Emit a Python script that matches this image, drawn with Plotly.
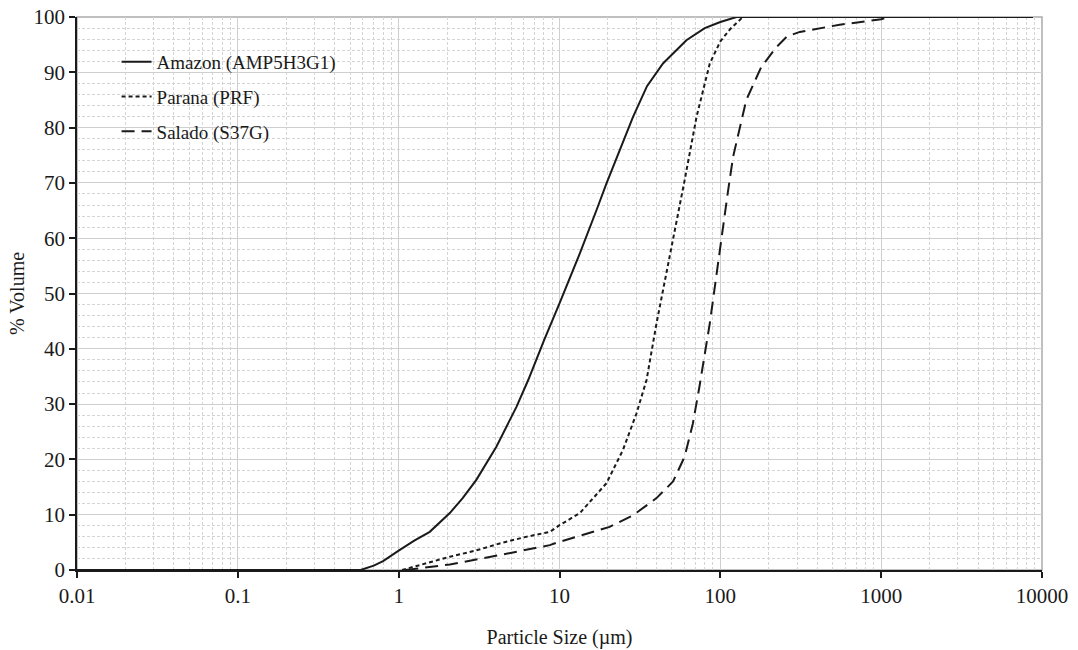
import plotly.graph_objects as go

# ---- data ----
amazon_x = [0.01, 0.58, 0.7, 0.8, 1.0, 1.25, 1.56, 2.08, 2.5, 3.04, 4.05, 5.4, 6.4, 8.0, 10.0,
            13.4, 17.0, 19.6, 28.7, 35.0, 44.0, 61.5, 80.0, 100.0, 126.0, 8750.0]
amazon_y = [0.0, 0.0, 0.8, 1.6, 3.5, 5.3, 6.9, 10.3, 13.0, 16.3, 22.3, 29.5, 34.4, 41.5, 48.2,
            57.3, 65.1, 69.9, 82.0, 87.5, 91.6, 95.8, 98.0, 99.1, 100.0, 100.0]

parana_x = [1.05, 1.5, 2.08, 3.0, 4.25, 6.0, 8.7, 10.0, 13.4, 19.6, 24.8, 30.1, 34.8, 40.1,
            50.8, 60.0, 71.2, 86.0, 100.0, 115.0, 138.0, 8750.0]
parana_y = [0.0, 1.3, 2.4, 3.5, 4.8, 5.9, 6.9, 8.1, 10.3, 15.7, 21.7, 28.3, 34.4, 44.6,
            59.7, 70.5, 82.0, 91.6, 95.6, 97.8, 100.0, 100.0]

salado_x = [1.1, 2.08, 4.25, 8.7, 10.0, 20.5, 28.7, 40.1, 50.8, 60.0, 67.5, 74.0, 86.0, 97.0,
            111.0, 120.0, 145.0, 180.0, 224.0, 260.0, 312.0, 552.0, 1000.0, 1100.0, 8750.0]
salado_y = [0.0, 1.0, 2.7, 4.5, 5.1, 7.8, 9.9, 13.0, 16.0, 20.5, 26.5, 33.0, 44.6, 56.0,
            68.0, 74.7, 85.0, 91.0, 94.6, 96.5, 97.3, 98.6, 99.6, 100.0, 100.0]

series_names = ["Amazon (AMP5H3G1)", "Parana (PRF)", "Salado (S37G)"]

x_ticks = [0.01, 0.1, 1, 10, 100, 1000, 10000]
x_tick_text = ["0.01", "0.1", "1", "10", "100", "1000", "10000"]
x_minor = [m * 10 ** e for e in range(-2, 4) for m in range(2, 10)]
y_ticks = list(range(0, 101, 10))

FONT = "Liberation Serif, Times New Roman, serif"
LINE = "#1a1a1a"
GRID = "#cfcfcf"
MINOR = "#d4d4d4"

fig = go.Figure()
styles = ["solid", "4px,3px", "13px,7px"]
for i, (xs, ys) in enumerate([(amazon_x, amazon_y), (parana_x, parana_y), (salado_x, salado_y)]):
    fig.add_trace(go.Scatter(
        x=xs, y=ys, mode="lines", name=series_names[i], legendgroup=f"g{i}",
        line=dict(color=LINE, width=2, dash=styles[i]),
    ))

fig.update_layout(
    width=1078, height=650,
    paper_bgcolor="white", plot_bgcolor="white",
    margin=dict(l=77, r=36, t=17, b=80),
    font=dict(family=FONT, size=20, color="#1a1a1a"),
    showlegend=True,
    legend=dict(
        x=0.041, y=0.953, xanchor="left", yanchor="top",
        bgcolor="rgba(0,0,0,0)", borderwidth=0,
        font=dict(family=FONT, size=19, color="#1a1a1a"),
        traceorder="grouped", tracegroupgap=7,
    ),
    shapes=[dict(type="rect", xref="paper", yref="paper", x0=0, y0=0, x1=1, y1=1,
                 line=dict(color="#aaaaaa", width=1.5), layer="below")],
)

fig.update_xaxes(
    type="log", range=[-2, 4], automargin=False,
    tickmode="array", tickvals=x_ticks, ticktext=x_tick_text,
    ticks="outside", ticklen=6, tickcolor="#1a1a1a", tickwidth=1.5,
    showline=True, linecolor="#1a1a1a", linewidth=1.5,
    showgrid=True, gridcolor=GRID, gridwidth=1.2,
    minor=dict(tickmode="array", tickvals=x_minor, showgrid=True,
               gridcolor=MINOR, griddash="3px,2px", gridwidth=1, ticks=""),
    tickfont=dict(family=FONT, size=21),
    title=dict(text="Particle Size (µm)", font=dict(family=FONT, size=20), standoff=23),
    zeroline=False,
)
fig.update_yaxes(
    range=[0, 100], tickmode="array", tickvals=y_ticks, automargin=False,
    ticks="outside", ticklen=6, tickcolor="#1a1a1a", tickwidth=1.5,
    showline=True, linecolor="#1a1a1a", linewidth=1.5,
    showgrid=True, gridcolor=GRID, gridwidth=1.2,
    minor=dict(dtick=2, showgrid=True, gridcolor=MINOR, griddash="3px,2px", gridwidth=1, ticks=""),
    tickfont=dict(family=FONT, size=21),
    title=dict(text="% Volume", font=dict(family=FONT, size=20), standoff=4),
    zeroline=False,
)

# remove the browser's default 8px body margin so the figure fills the window exactly
fig.write_html("out.html", config={"displayModeBar": False},
               post_script="document.body.style.margin='0px';")
